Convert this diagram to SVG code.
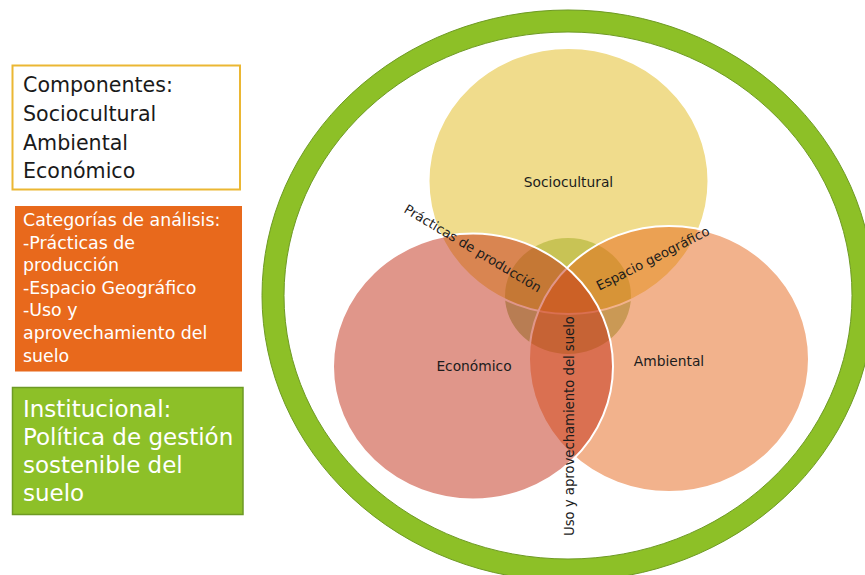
<svg xmlns="http://www.w3.org/2000/svg" width="865" height="575" viewBox="0 0 865 575">
  <style>
    text { font-family: "DejaVu Sans", "Liberation Sans", sans-serif; }
    .venn { fill-opacity: 0.5; stroke: #ffffff; stroke-width: 2; }
    .lbl { font-size: 13.8px; fill: #1c1c1c; text-anchor: middle; }
    .rot { font-size: 13.2px; fill: #1c1c1c; text-anchor: middle; }
    .dark { fill: #1a1a1a; font-size: 20.6px; }
    .light-m { fill: #ffffff; font-size: 17.4px; }
    .light-l { fill: #ffffff; font-size: 23px; }
  </style>

  <rect width="865" height="575" fill="#ffffff"/>

  <!-- outer ring -->
  <g id="ring">
    <path fill="#8DC027" fill-rule="evenodd" stroke="#6E9A24" stroke-width="1"
          d="M262,295.5 a306,285.5 0 1,0 612,0 a306,285.5 0 1,0 -612,0 Z
             M284,295.5 a284,263.5 0 1,0 568,0 a284,263.5 0 1,0 -568,0 Z"/>
  </g>

  <!-- pale core behind the three sets -->
  <g id="nucleus">
    <ellipse cx="568" cy="296" rx="63" ry="58" fill="#AFCC91"/>
  </g>

  <g id="circle-sociocultural">
    <ellipse class="venn" cx="568.5" cy="181" rx="140" ry="133" fill="#E1B919"/>
    <text class="lbl" x="568.5" y="186.5">Sociocultural</text>
  </g>

  <g id="circle-ambiental">
    <ellipse class="venn" cx="669" cy="359" rx="140" ry="133" fill="#E56519"/>
  </g>

  <g id="circle-economico">
    <ellipse class="venn" cx="473" cy="366.5" rx="140" ry="133" fill="#C12D15"/>
  </g>

  <!-- set and overlap labels -->
  <g id="labels">
    <text class="lbl" x="474" y="371">Económico</text>
    <text class="lbl" x="669" y="365.5">Ambiental</text>
    <text class="rot" transform="translate(470.4,252.2) rotate(31)">Prácticas de producción</text>
    <text class="rot" transform="translate(655,262.5) rotate(-27)">Espacio geográfico</text>
    <text class="rot" transform="translate(574,426) rotate(-90)">Uso y aprovechamiento del suelo</text>
  </g>

  <!-- side panels -->
  <g id="box-componentes">
    <rect x="12.5" y="65.5" width="227.5" height="124" fill="#ffffff" stroke="#EBB733" stroke-width="2"/>
    <text class="dark" x="23" y="92">Componentes:</text>
    <text class="dark" x="23" y="121">Sociocultural</text>
    <text class="dark" x="23" y="149.5">Ambiental</text>
    <text class="dark" x="23" y="178">Económico</text>
  </g>

  <g id="box-categorias">
    <rect x="15" y="206" width="227" height="165.5" fill="#E8691C"/>
    <text class="light-m" x="23" y="226">Categorías de análisis:</text>
    <text class="light-m" x="23" y="248.6">-Prácticas de</text>
    <text class="light-m" x="23" y="271.2">producción</text>
    <text class="light-m" x="23" y="293.8">-Espacio Geográfico</text>
    <text class="light-m" x="23" y="316.4">-Uso y</text>
    <text class="light-m" x="23" y="339">aprovechamiento del</text>
    <text class="light-m" x="23" y="361.6">suelo</text>
  </g>

  <g id="box-institucional">
    <rect x="12.5" y="387.5" width="230.5" height="127" fill="#8DC028" stroke="#6E9A24" stroke-width="1.5"/>
    <text class="light-l" x="23" y="416.7">Institucional:</text>
    <text class="light-l" x="23" y="445">Política de gestión</text>
    <text class="light-l" x="23" y="473.3">sostenible del</text>
    <text class="light-l" x="23" y="501">suelo</text>
  </g>
</svg>
